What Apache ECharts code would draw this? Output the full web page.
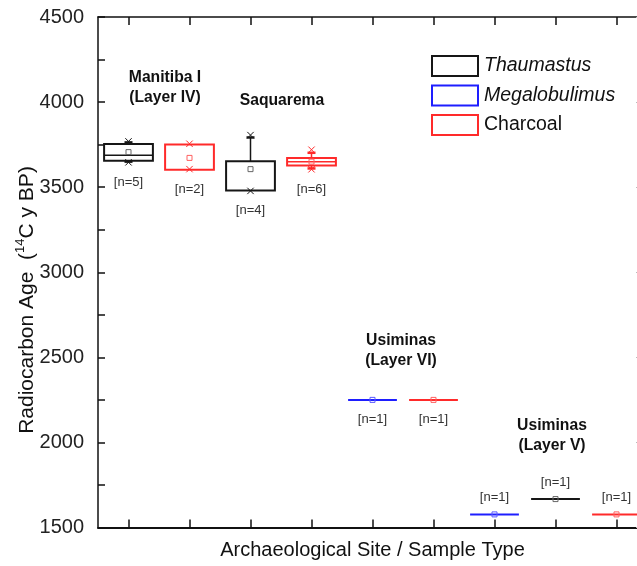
<!DOCTYPE html>
<html>
<head>
<meta charset="utf-8">
<script src="https://cdn.jsdelivr.net/npm/echarts@6/dist/echarts.min.js"></script>
<style>html,body{margin:0;padding:0;background:#fff;overflow:hidden;width:637px;height:566px}#c{width:660px;height:566px}</style>
</head>
<body>
<div id="c"></div>
<script>
// ---------- data ----------
const categories = [
  'Manitiba I (Layer IV) / Thaumastus',
  'Manitiba I (Layer IV) / Charcoal',
  'Saquarema / Thaumastus',
  'Saquarema / Charcoal',
  'Usiminas (Layer VI) / Megalobulimus',
  'Usiminas (Layer VI) / Charcoal',
  'Usiminas (Layer V) / Megalobulimus',
  'Usiminas (Layer V) / Thaumastus',
  'Usiminas (Layer V) / Charcoal'
];
const sampleType = ['Thaumastus','Charcoal','Thaumastus','Charcoal','Megalobulimus','Charcoal','Megalobulimus','Thaumastus','Charcoal'];
const q1          = [3655, 3603, 3480, 3627, 2250, 2250, 1577, 1667, 1577];
const median      = [3688, null, null, 3649, 2250, 2250, 1577, 1667, 1577];
const q3          = [3753, 3751, 3653, 3672, 2250, 2250, 1577, 1667, 1577];
const whiskerLow  = [3650, 3603, 3480, 3610, 2250, 2250, 1577, 1667, 1577];
const whiskerHigh = [3763, 3751, 3792, 3702, 2250, 2250, 1577, 1667, 1577];
const minVal      = [3646, 3606, 3478, 3605, null, null, null, null, null];
const maxVal      = [3769, 3755, 3806, 3720, null, null, null, null, null];
const meanVal     = [3706, 3672, 3606, 3650, 2250, 2250, 1577, 1667, 1577];
const nSamples    = [5, 2, 4, 6, 1, 1, 1, 1, 1];
const yTicks      = [1500, 2000, 2500, 3000, 3500, 4000, 4500];
const siteLabels  = ['Manitiba I\n(Layer IV)', 'Saquarema', 'Usiminas\n(Layer VI)', 'Usiminas\n(Layer V)'];
const seriesNames = ['Thaumastus', 'Megalobulimus', 'Charcoal'];

// ---------- style ----------
const FONT = '"Liberation Sans", Arial, sans-serif';
const seriesColor = { Thaumastus: '#161616', Megalobulimus: '#1e1eff', Charcoal: '#ff2a2a' };
const meanColor = { Thaumastus: '#666', Megalobulimus: '#5a5aff', Charcoal: '#ff6060' };
const nLabelSide = ['below','below','below','below','below','below','above','above','above'];

function makeRender(name) {
  const col = seriesColor[name], mcol = meanColor[name];
  return function (params, api) {
    const i = api.value(0);
    const x = api.coord([i, meanVal[i]])[0];
    const band = api.size([1, 0])[0];
    const bw = band * 0.8;
    const Y = v => api.coord([i, v])[1];
    const ch = [];
    const line = (x1, y1, x2, y2, w, c) => ch.push({ type: 'line', shape: { x1, y1, x2, y2 }, style: { stroke: c || col, lineWidth: w } });
    if (whiskerHigh[i] > q3[i]) {
      line(x, Y(q3[i]), x, Y(whiskerHigh[i]), 1.5);
      line(x - 4, Y(whiskerHigh[i]), x + 4, Y(whiskerHigh[i]), 2.5);
    }
    if (whiskerLow[i] < q1[i]) {
      line(x, Y(q1[i]), x, Y(whiskerLow[i]), 1.5);
      line(x - 4, Y(whiskerLow[i]), x + 4, Y(whiskerLow[i]), 2.5);
    }
    const yTop = Y(q3[i]), yBot = Y(q1[i]);
    if (yBot - yTop > 0.5) {
      ch.push({ type: 'rect', shape: { x: x - bw / 2, y: yTop, width: bw, height: yBot - yTop }, style: { fill: 'none', stroke: col, lineWidth: 2 } });
    } else {
      line(x - bw / 2, yTop, x + bw / 2, yTop, 2);
    }
    if (median[i] != null && yBot - yTop > 0.5) line(x - bw / 2, Y(median[i]), x + bw / 2, Y(median[i]), 1.5);
    [minVal[i], maxVal[i]].forEach(v => {
      if (v == null) return;
      const yy = Y(v), s = 3.2;
      line(x - s, yy - s, x + s, yy + s, 1, col);
      line(x - s, yy + s, x + s, yy - s, 1, col);
    });
    const ym = Y(meanVal[i]);
    ch.push({ type: 'rect', shape: { x: x - 2.5, y: ym - 2.5, width: 5, height: 5 }, style: { fill: 'none', stroke: mcol, lineWidth: 1 } });
    const lo = Math.max(yBot, Y(whiskerLow[i]), minVal[i] != null ? Y(minVal[i]) : -1e9);
    const hi = Math.min(yTop, Y(whiskerHigh[i]), maxVal[i] != null ? Y(maxVal[i]) : 1e9);
    const ly = nLabelSide[i] === 'below' ? lo + 20 : hi - 17;
    ch.push({ type: 'text', x: x, y: ly, style: { text: '[n=' + nSamples[i] + ']', fill: '#333', font: '13px ' + FONT, align: 'center', verticalAlign: 'middle' } });
    return { type: 'group', children: ch };
  };
}

const series = seriesNames.map(name => ({
  type: 'custom',
  name: name,
  renderItem: makeRender(name),
  encode: { x: 0, y: 1 },
  clip: false,
  data: categories.map((c, i) => sampleType[i] === name ? [i, meanVal[i]] : null).filter(d => d)
}));

const chart = echarts.init(document.getElementById('c'), null, { renderer: 'canvas' });
const axisLine = { show: true, lineStyle: { color: '#111', width: 1.5 } };
const xTick = { show: true, inside: true, alignWithLabel: true, interval: 0, length: 8, lineStyle: { color: '#111', width: 1.5 } };
chart.setOption({
  animation: false,
  backgroundColor: '#fff',
  textStyle: { fontFamily: FONT },
  grid: { left: 98, top: 17, height: 510.5, width: 549, containLabel: false, outerBoundsMode: 'none' },
  legend: {
    orient: 'vertical', left: 426, top: 50,
    itemWidth: 46, itemHeight: 20, itemGap: 7.5,
    textStyle: { fontSize: 19.5, color: '#111', fontFamily: FONT, padding: [0, 0, 0, 1] },
    data: seriesNames.map(n => ({
      name: n, icon: 'rect',
      itemStyle: { color: '#fff', borderColor: seriesColor[n], borderWidth: 2 },
      textStyle: { fontStyle: n === 'Charcoal' ? 'normal' : 'italic' }
    }))
  },
  xAxis: [{
    type: 'category', data: categories, position: 'bottom',
    axisLine: { show: true, lineStyle: { color: '#111', width: 2 } },
    axisTick: xTick,
    axisLabel: { show: false }
  }, {
    type: 'category', data: categories, position: 'top',
    axisLine: axisLine,
    axisTick: xTick,
    axisLabel: { show: false }
  }],
  yAxis: [{
    type: 'value', min: yTicks[0], max: yTicks[yTicks.length - 1], interval: 250, position: 'left',
    axisLine: axisLine,
    axisTick: { show: true, inside: true, length: 7, lineStyle: { color: '#111', width: 1.5 } },
    axisLabel: { fontSize: 20, color: '#222', margin: 14, fontFamily: FONT, formatter: v => yTicks.indexOf(v) >= 0 ? String(v) : '' },
    splitLine: { show: false }
  }, {
    type: 'value', min: yTicks[0], max: yTicks[yTicks.length - 1], interval: 500, position: 'right',
    axisLine: axisLine,
    axisTick: { show: true, inside: true, length: 11, lineStyle: { color: '#bbb', width: 1 } },
    axisLabel: { show: false }, splitLine: { show: false }
  }],
  graphic: [
    { type: 'text', x: 27, y: 300, rotation: Math.PI / 2,
      style: { text: '{a|Radiocarbon Age  (}{s|14}{a|C y BP)}', align: 'center', verticalAlign: 'middle',
        rich: { a: { fontSize: 21, fontFamily: FONT, fill: '#111', lineHeight: 26 },
                s: { fontSize: 13, fontFamily: FONT, fill: '#111', lineHeight: 13, verticalAlign: 'top' } } } },
    { type: 'text', x: 372.5, y: 550, style: { text: 'Archaeological Site / Sample Type', font: '20px ' + FONT, fill: '#111', align: 'center', verticalAlign: 'middle' } },
    { type: 'text', x: 165, y: 88, style: { text: siteLabels[0], font: 'bold 15.7px ' + FONT, fill: '#111', align: 'center', verticalAlign: 'middle', lineHeight: 20 } },
    { type: 'text', x: 282, y: 101, style: { text: siteLabels[1], font: 'bold 15.7px ' + FONT, fill: '#111', align: 'center', verticalAlign: 'middle', lineHeight: 20 } },
    { type: 'text', x: 401, y: 351, style: { text: siteLabels[2], font: 'bold 15.7px ' + FONT, fill: '#111', align: 'center', verticalAlign: 'middle', lineHeight: 20 } },
    { type: 'text', x: 552, y: 436, style: { text: siteLabels[3], font: 'bold 15.7px ' + FONT, fill: '#111', align: 'center', verticalAlign: 'middle', lineHeight: 20 } }
  ],
  series: series
});
</script>
</body>
</html>
